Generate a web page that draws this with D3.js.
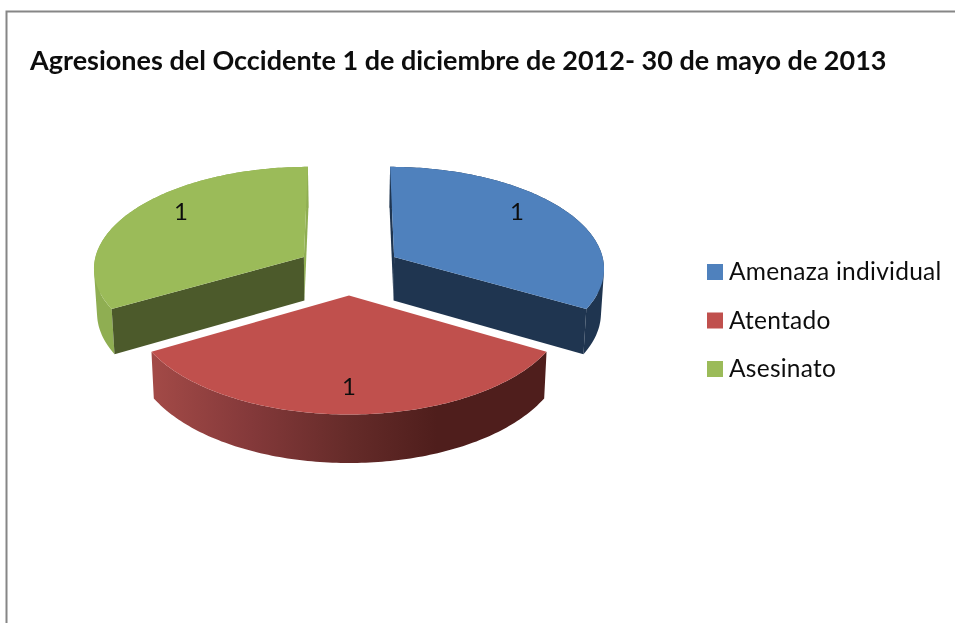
<!DOCTYPE html>
<html><head><meta charset="utf-8">
<script src="https://cdn.jsdelivr.net/npm/d3@7"></script>
<style>html,body{margin:0;padding:0;background:#fff}svg{display:block}text{font-family:Lato,"Open Sans",sans-serif;fill:#111}</style>
</head><body><svg id="c" width="955" height="623"></svg>
<script>
const categories = ["Amenaza individual", "Atentado", "Asesinato"];
const values = [1, 1, 1];
const title = "Agresiones del Occidente 1 de diciembre de 2012- 30 de mayo de 2013";
const topColors = ["#4f81bd", "#c0504d", "#9bbb59"];
const innerColors = ["#1f3550", "#4f1e1c", "#4c5a2b"];
const outerColors = ["#1f3550", "url(#redWall)", "#8fae52"];
const labelAngles = [53, 180, 307];

const svg = d3.select("#c");
const defs = svg.append("defs");
const gr = defs.append("linearGradient").attr("id","redWall").attr("gradientUnits","userSpaceOnUse")
  .attr("x1",152).attr("x2",547).attr("y1",0).attr("y2",0);
[[0,"#a34a47"],[0.25,"#84393a"],[0.5,"#652b29"],[0.72,"#4f1e1c"],[1,"#4f1e1c"]]
  .forEach(s=>gr.append("stop").attr("offset",s[0]).attr("stop-color",s[1]));
defs.append("filter").attr("id","soft").append("feGaussianBlur").attr("stdDeviation",0.4);

// frame
svg.append("path").attr("d","M6.5,623V11.5H955").attr("fill","none").attr("stroke","#868686").attr("stroke-width",2);

// projection of the tilted pie plane
const cx=349, cy=269.5, F=211, G=101.5, P=0.1, H=44, explode=0.25;
function project(x,y,d){
  const s=1/(1+P*y), k=1-0.012*d;
  return [cx+F*x*s*k, cy-G*y*s*k+H*s*d];
}
const arcs=d3.pie().sort(null).value(d=>d)(values);
const line=d3.line();
const oriented=q=>d3.polygonArea(q)<0?q.slice().reverse():q;

function sliceGeom(arc){
  const mid=(arc.startAngle+arc.endAngle)/2;
  const ox=explode*Math.sin(mid), oy=explode*Math.cos(mid);
  const pt=(a,r,d)=>project(ox+r*Math.sin(a),oy+r*Math.cos(a),d);
  return {pt,ox,oy};
}
// back slices first, front slice last
[0,2,1].forEach(i=>{
  const arc=arcs[i], {pt}=sliceGeom(arc);
  const as=d3.range(0,121).map(t=>arc.startAngle+(arc.endAngle-arc.startAngle)*t/120);
  const g=svg.append("g");
  const top=[pt(arc.startAngle,0,0),...as.map(a=>pt(a,1,0))];
  const face=a=>[pt(a,0,0),pt(a,1,0),pt(a,1,1),pt(a,0,1)];
  const hiddenFace=i===0?arc.startAngle:arc.endAngle;
  const openFace=i===0?arc.endAngle:arc.startAngle;
  if(i!==1) g.append("path").attr("d",line(face(hiddenFace))+"Z").attr("fill",i===0?innerColors[0]:outerColors[2]);
  const wall=as.slice(1).map((a,j)=>line(oriented([pt(as[j],1,0),pt(a,1,0),pt(a,1,1),pt(as[j],1,1)]))+"Z").join("");
  g.append("path").attr("d",wall).attr("fill",outerColors[i]);
  if(i!==1) g.append("path").attr("d",line(face(openFace))+"Z").attr("fill",innerColors[i]);
  g.append("path").attr("d",line(top)+"Z").attr("fill",topColors[i]);
});
// value labels
arcs.forEach((arc,i)=>{
  const {ox,oy}=sliceGeom(arc), a=labelAngles[i]*Math.PI/180;
  const p=project(ox+0.785*Math.sin(a),oy+0.785*Math.cos(a),0);
  svg.append("text").attr("x",p[0]).attr("y",p[1]+8).attr("text-anchor","middle")
    .attr("font-size",24).attr("filter","url(#soft)").text(values[i]);
});
// title
svg.append("text").attr("x",30).attr("y",70).attr("font-size",27).attr("font-weight",700)
  .attr("filter","url(#soft)").text(title);
// legend
const legY=d3.scalePoint().domain(categories).range([272,369]);
const leg=svg.selectAll("g.l").data(categories).join("g").attr("class","l")
  .attr("transform",d=>`translate(707,${legY(d)})`);
leg.append("rect").attr("x",0).attr("y",-8).attr("width",16).attr("height",16)
  .attr("fill",(d,i)=>topColors[i]);
leg.append("text").attr("x",22).attr("y",8).attr("font-size",24.5).attr("letter-spacing",0.25)
  .attr("filter","url(#soft)").text(d=>d);
</script></body></html>
